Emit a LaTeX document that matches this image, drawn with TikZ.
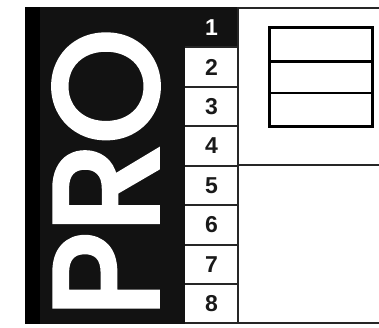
\documentclass[tikz,border=0pt]{standalone}
\usepackage{fontspec}
\newfontfamily\profont[FakeBold=4]{Poppins}
\newfontfamily\numfont{Liberation Sans}
\begin{document}
\begin{tikzpicture}[x=1pt,y=-1pt,
  gridline/.style={draw=black!85,line width=1.3pt},
  boxline/.style={draw=black,line width=2.6pt},
  numlabel/.style={font=\numfont\bfseries\fontsize{23}{23}\selectfont,text=black!90,inner sep=0pt},
  protext/.style={font=\profont\fontsize{146}{146}\selectfont,text=white,inner sep=0pt,rotate=90}]
\useasboundingbox (0,0) rectangle (379,327);
% black strip
\fill[black!93] (25,7) rectangle (185,324);
\fill[black!93] (185,7) rectangle (238,47);
\fill[black] (25,7) rectangle (40,324);
% right panel
\draw[gridline] (238,8) -- (379,8);
\draw[gridline,line width=1.8pt] (238,165) -- (379,165);
\draw[gridline,line width=1.8pt] (185,323) -- (379,323);
\draw[gridline] (238,7) -- (238,324);
% number cells
\foreach \y in {87,126,205,245,284}{\draw[gridline] (185,\y) -- (238,\y);}
\draw[gridline] (185,47) -- (238,47);
\draw[gridline] (185,166) -- (238,166);
\node[numlabel,text=white] (n1) at (211.5,27.5) {1};
\node[numlabel] (n2) at (211.5,67) {2};
\node[numlabel] (n3) at (211.5,106.5) {3};
\node[numlabel] (n4) at (211.5,146) {4};
\node[numlabel] (n5) at (211.5,185.5) {5};
\node[numlabel] (n6) at (211.5,225) {6};
\node[numlabel] (n7) at (211.5,264.5) {7};
\node[numlabel] (n8) at (211.5,304) {8};
% stacked boxes
\draw[boxline] (269.5,27.5) rectangle (372.5,126.5);
\draw[boxline] (269.5,61.5) -- (372.5,61.5);
\draw[boxline] (269.5,93) -- (372.5,93);
% PRO
\node[protext] (pro) at (106,173) {PRO};
\end{tikzpicture}
\end{document}
